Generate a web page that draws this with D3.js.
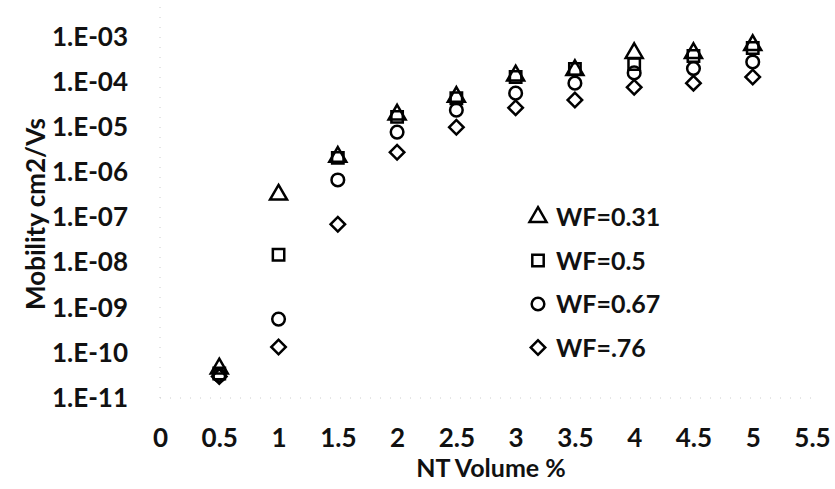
<!DOCTYPE html>
<html>
<head>
<meta charset="utf-8">
<script src="https://cdn.jsdelivr.net/npm/d3@7"></script>
<style>
  body { margin: 0; background: #fff; }
  text { font-family: Lato, "Open Sans", sans-serif; font-weight: 700; fill: #111; }
</style>
</head>
<body>
<script>
// NT volume % (x) and mobility values
var volume = [0.5, 1, 1.5, 2, 2.5, 3, 3.5, 4, 4.5, 5];
var wf031 = [4.5e-11, 3.2e-7, 2.2e-6, 1.9e-5, 4.7e-5, 1.4e-4, 1.85e-4, 4.4e-4, 4.4e-4, 6.6e-4];
var wf05  = [3.5e-11, 1.5e-8, 2.1e-6, 1.7e-5, 4.4e-5, 1.3e-4, 1.95e-4, 2.5e-4, 3.8e-4, 5.7e-4];
var wf067 = [3.2e-11, 5.6e-10, 6.8e-7, 7.8e-6, 2.4e-5, 5.7e-5, 9.5e-5, 1.6e-4, 2.0e-4, 2.8e-4];
var wf076 = [3.0e-11, 1.35e-10, 7.1e-8, 2.8e-6, 1.0e-5, 2.7e-5, 4.0e-5, 7.7e-5, 9.5e-5, 1.3e-4];
var seriesNames = ["WF=0.31", "WF=0.5", "WF=0.67", "WF=.76"];
var xTicks = [0, 0.5, 1, 1.5, 2, 2.5, 3, 3.5, 4, 4.5, 5, 5.5];
var yTicks = [1e-11, 1e-10, 1e-9, 1e-8, 1e-7, 1e-6, 1e-5, 1e-4, 1e-3];

var w = 835, h = 489;

var series = [
  {name: seriesNames[0], values: wf031, shape: "triangle"},
  {name: seriesNames[1], values: wf05, shape: "square"},
  {name: seriesNames[2], values: wf067, shape: "circle"},
  {name: seriesNames[3], values: wf076, shape: "diamond"}
];

var x = d3.scaleLinear().domain([0, 5.5]).range([160, 812]);
var y = d3.scaleLog().domain([1e-11, 1e-3]).range([398, 37]);

var svg = d3.select("body").append("svg")
  .attr("width", w)
  .attr("height", h);

// marker paths
function markerPath(shape){
  if(shape == "triangle") return d3.symbol(d3.symbolTriangle, 125)();
  if(shape == "square") return d3.symbol(d3.symbolSquare, 130)();
  if(shape == "circle") return d3.symbol(d3.symbolCircle, 125)();
  return d3.symbol(d3.symbolSquare, 105)();
}
function markerRot(shape){
  return shape == "diamond" ? " rotate(45)" : "";
}

// faint dotted axes
svg.append("line")
  .attr("x1", x(0)).attr("x2", x(0))
  .attr("y1", y(1e-3) - 30).attr("y2", y(1e-11))
  .attr("stroke", "#ccc")
  .attr("stroke-dasharray", "1,9");
svg.append("line")
  .attr("x1", x(0)).attr("x2", x(5.5))
  .attr("y1", y(1e-11)).attr("y2", y(1e-11))
  .attr("stroke", "#ccc")
  .attr("stroke-dasharray", "1,9");

// x axis
var xAxis = svg.append("g")
  .attr("class", "x axis")
  .attr("transform", "translate(0," + y(1e-11) + ")")
  .call(d3.axisBottom(x).tickValues(xTicks).tickSize(0).tickPadding(31)
    .tickFormat(function(d){ return d; }));
xAxis.select(".domain").remove();
xAxis.selectAll("text")
  .style("font-size", "26px")
  .style("font-family", "Lato, sans-serif")
  .attr("fill", "#111");

// y axis
var yAxis = svg.append("g")
  .attr("class", "y axis")
  .attr("transform", "translate(" + x(0) + ",0)")
  .call(d3.axisLeft(y).tickValues(yTicks).tickSize(0).tickPadding(32)
    .tickFormat(function(d){
      var e = Math.round(Math.log10(d));
      return "1.E-" + (Math.abs(e) < 10 ? "0" : "") + Math.abs(e);
    }));
yAxis.select(".domain").remove();
yAxis.selectAll("text")
  .style("font-size", "26px")
  .style("font-family", "Lato, sans-serif")
  .attr("fill", "#111");

// axis titles
svg.append("text")
  .attr("x", 491)
  .attr("y", 477)
  .style("text-anchor", "middle")
  .style("font-size", "25px")
  .text("NT Volume %");

svg.append("text")
  .attr("transform", "translate(45," + 214 + ") rotate(-90)")
  .style("text-anchor", "middle")
  .style("font-size", "26px")
  .text("Mobility cm2/Vs");

// points
series.forEach(function(s){
  svg.append("g")
    .selectAll("path")
    .data(s.values)
    .enter()
      .append("path")
      .attr("d", markerPath(s.shape))
      .attr("transform", function(d, i){
        return "translate(" + x(volume[i]) + "," + y(d) + ")" + markerRot(s.shape);
      })
      .attr("fill", "none")
      .attr("stroke", "#000")
      .attr("stroke-width", 2.5);
});

// legend
var legend = svg.append("g")
  .attr("transform", "translate(538,217)");
var item = legend.selectAll("g")
  .data(series)
  .enter()
    .append("g")
    .attr("transform", function(d, i){ return "translate(0," + (i * 43.5) + ")"; });
item.append("path")
  .attr("d", function(d){ return markerPath(d.shape); })
  .attr("transform", function(d){ return "translate(0,0)" + markerRot(d.shape); })
  .attr("fill", "none")
  .attr("stroke", "#000")
  .attr("stroke-width", 2.5);
item.append("text")
  .attr("x", 18)
  .attr("y", 9)
  .style("font-size", "25px")
  .text(function(d){ return d.name; });
</script>
</body>
</html>
